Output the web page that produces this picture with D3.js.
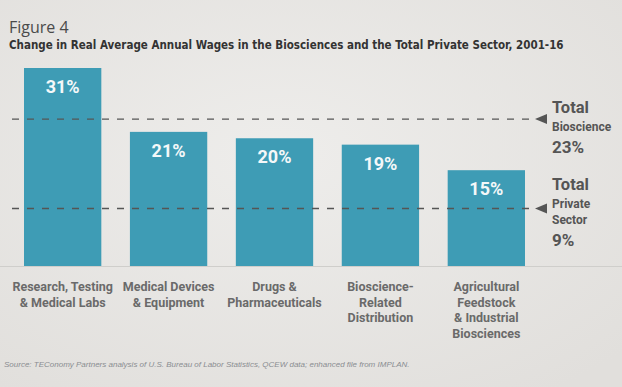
<!DOCTYPE html>
<html>
<head>
<meta charset="utf-8">
<script src="https://cdn.jsdelivr.net/npm/d3@7"></script>
<style>
  body { margin: 0; background: #ebe9e6; }
  svg { display: block; }
  text { font-family: Roboto, "DejaVu Sans", sans-serif; }
</style>
</head>
<body>
<div id="chart"></div>
<script>
// Data
var categories = [
  ["Research, Testing", "& Medical Labs"],
  ["Medical Devices", "& Equipment"],
  ["Drugs &", "Pharmaceuticals"],
  ["Bioscience-", "Related", "Distribution"],
  ["Agricultural", "Feedstock", "& Industrial", "Biosciences"]
];
var values = [31, 21, 20, 19, 15];
var refNames = [["Total", "Bioscience"], ["Total", "Private", "Sector"]];
var refValues = [23, 9];

var width = 622, height = 387;

var svg = d3.select("#chart").append("svg")
    .attr("width", width)
    .attr("height", height);

// soft paper background
var defs = svg.append("defs");
var bg = defs.append("radialGradient").attr("id", "paper").attr("cx", "45%").attr("cy", "40%").attr("r", "75%");
bg.append("stop").attr("offset", "0%").attr("stop-color", "#eeedeb");
bg.append("stop").attr("offset", "100%").attr("stop-color", "#e1dfdc");
svg.append("rect").attr("width", width).attr("height", height).attr("fill", "url(#paper)");

var x = d3.scaleBand()
    .domain(d3.range(values.length))
    .range([24, 525])
    .paddingInner(0.27)
    .paddingOuter(0);

var y = d3.scaleLinear().domain([0, 31]).range([266, 68]);

// Titles
svg.append("text").attr("x", 9).attr("y", 33)
    .style("font-size", "16px").attr("fill", "#4a4a4a")
    .style("font-family", "'Open Sans', sans-serif")
    .text("Figure 4");
svg.append("text").attr("x", 9).attr("y", 49)
    .style("font-size", "11.5px").style("font-weight", "bold").attr("fill", "#333")
    .style("font-family", "'DejaVu Sans', sans-serif").style("font-stretch", "condensed")
    .text("Change in Real Average Annual Wages in the Biosciences and the Total Private Sector, 2001-16");

// faint baseline under the bars
svg.append("line")
    .attr("x1", 0).attr("x2", width)
    .attr("y1", y(0) + 0.5).attr("y2", y(0) + 0.5)
    .attr("stroke", "#cfcecb").attr("stroke-width", 1);

// Bars
svg.selectAll(".bar")
  .data(values)
  .enter().append("rect")
    .attr("class", "bar")
    .attr("x", function(d, i) { return x(i); })
    .attr("y", function(d) { return y(d); })
    .attr("width", x.bandwidth())
    .attr("height", function(d) { return y(0) - y(d); })
    .attr("fill", "#3e9cb5");

// Value labels
svg.selectAll(".val")
  .data(values)
  .enter().append("text")
    .attr("class", "val")
    .attr("x", function(d, i) { return x(i) + x.bandwidth() / 2; })
    .attr("y", function(d) { return y(d) + 25; })
    .attr("text-anchor", "middle")
    .style("font-size", "18px").style("font-weight", "bold")
    .attr("fill", "#f4f8f9")
    .text(function(d) { return d + "%"; });

// Reference lines
var refG = svg.selectAll(".ref")
  .data(refValues)
  .enter().append("g").attr("class", "ref");

refG.append("line")
    .attr("x1", 12).attr("x2", 532)
    .attr("y1", function(d) { return y(d); })
    .attr("y2", function(d) { return y(d); })
    .attr("stroke", "#555")
    .attr("stroke-width", 1.3)
    .attr("stroke-dasharray", "7,8");

refG.append("path")
    .attr("d", function(d) { var yy = y(d); return "M535," + yy + "L547," + (yy - 5) + "L547," + (yy + 5) + "Z"; })
    .attr("fill", "#555");

// Reference labels
var refTop = [113, 190];
refG.each(function(d, k) {
  var g = d3.select(this);
  var names = refNames[k];
  var yy = refTop[k];
  g.append("text").attr("x", 552).attr("y", yy)
      .style("font-size", "16.5px").style("font-weight", "bold").attr("fill", "#555")
      .text(names[0]);
  for (var j = 1; j < names.length; j++) {
    yy += (j === 1 ? 18 : 16);
    g.append("text").attr("x", 552).attr("y", yy)
        .style("font-size", "12px").style("font-weight", "bold").attr("fill", "#555")
        .text(names[j]);
  }
  g.append("text").attr("x", 552).attr("y", yy + 22)
      .style("font-size", "17px").style("font-weight", "bold").attr("fill", "#555")
      .text(d + "%");
});

// Category labels
svg.selectAll(".cat")
  .data(categories)
  .enter().append("text")
    .attr("class", "cat")
    .attr("text-anchor", "middle")
    .style("font-size", "12.5px").style("font-weight", "bold")
    .attr("fill", "#6a6a6a")
    .each(function(lines, i) {
      var t = d3.select(this);
      lines.forEach(function(l, j) {
        t.append("tspan")
          .attr("x", x(i) + x.bandwidth() / 2)
          .attr("y", 291 + j * 15.7)
          .text(l);
      });
    });

// Source
svg.append("text").attr("x", 4).attr("y", 367)
    .style("font-size", "8px").style("font-style", "italic").attr("fill", "#8a8d91")
    .style("font-family", "'Liberation Sans', sans-serif")
    .text("Source: TEConomy Partners analysis of U.S. Bureau of Labor Statistics, QCEW data; enhanced file from IMPLAN.");
</script>
</body>
</html>
